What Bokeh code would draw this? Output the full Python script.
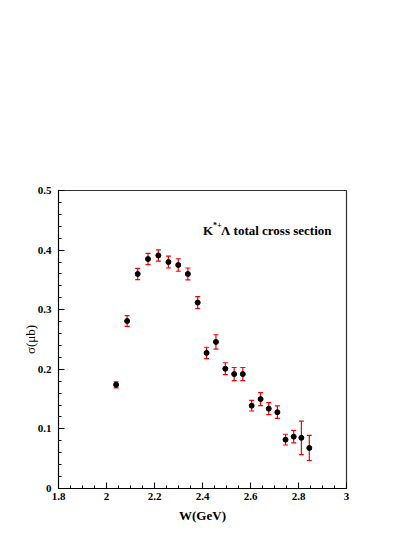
from bokeh.plotting import figure
from bokeh.models import ColumnDataSource, Whisker, TeeHead, FixedTicker
from bokeh.core.properties import value
from bokeh.embed import file_html
from bokeh.resources import INLINE

# data
W = [2.040, 2.086, 2.130, 2.173, 2.216, 2.258, 2.299, 2.339, 2.380, 2.417, 2.456,
     2.495, 2.532, 2.568, 2.605, 2.642, 2.676, 2.712, 2.746, 2.780, 2.812, 2.845]
sigma = [0.174, 0.281, 0.360, 0.385, 0.391, 0.380, 0.375, 0.360, 0.312, 0.2275, 0.246,
         0.201, 0.192, 0.192, 0.139, 0.150, 0.134, 0.128, 0.082, 0.087, 0.085, 0.068]
err = [0.005, 0.009, 0.0095, 0.0095, 0.0095, 0.010, 0.0105, 0.010, 0.010, 0.0095, 0.012,
       0.010, 0.011, 0.011, 0.009, 0.011, 0.010, 0.0105, 0.009, 0.0105, 0.028, 0.021]
x_ticks = [1.8, 2.0, 2.2, 2.4, 2.6, 2.8, 3.0]
x_tick_labels = ["1.8", "2", "2.2", "2.4", "2.6", "2.8", "3"]
y_ticks = [0.0, 0.1, 0.2, 0.3, 0.4, 0.5]
y_tick_labels = ["0", "0.1", "0.2", "0.3", "0.4", "0.5"]
x_minor = [round(1.8 + 0.05 * i, 3) for i in range(25)]
y_minor = [round(0.02 * i, 3) for i in range(26)]

FONT = "Liberation Serif"

p = figure(frame_width=288, frame_height=298, x_range=(1.8, 3.0), y_range=(0, 0.5),
           output_backend="svg", toolbar_location=None,
           min_border_left=58, min_border_right=61, min_border_top=190, min_border_bottom=45)
p.grid.visible = False
p.outline_line_color = "#333333"
p.outline_line_width = 1.2
p.background_fill_color = "white"
p.border_fill_color = "white"

p.xaxis.ticker = FixedTicker(ticks=x_ticks, minor_ticks=x_minor)
p.yaxis.ticker = FixedTicker(ticks=y_ticks, minor_ticks=y_minor)
p.xaxis.major_label_overrides = dict(zip(x_ticks, x_tick_labels))
p.yaxis.major_label_overrides = dict(zip(y_ticks, y_tick_labels))

for ax in (p.xaxis, p.yaxis):
    ax.major_tick_in = 6
    ax.major_tick_out = 0
    ax.minor_tick_in = 3
    ax.minor_tick_out = 0
    ax.axis_line_color = "black"
    ax.major_tick_line_color = "black"
    ax.minor_tick_line_color = "black"
    ax.major_label_text_font = FONT
    ax.major_label_text_font_style = "bold"
    ax.major_label_text_font_size = "11px"
    ax.major_label_text_color = "black"
    ax.axis_label_text_font = FONT
    ax.axis_label_text_color = "black"

p.xaxis.major_label_standoff = 4
p.yaxis.major_label_standoff = 7
p.xaxis.axis_label = "W(GeV)"
p.xaxis.axis_label_text_font_style = "bold"
p.xaxis.axis_label_text_font_size = "13px"
p.xaxis.axis_label_standoff = 5
p.yaxis.axis_label = "σ(μb)"
p.yaxis.axis_label_text_font_style = "normal"
p.yaxis.axis_label_text_font_size = "13px"
p.yaxis.axis_label_standoff = -3

src = ColumnDataSource(dict(
    x=W, y=sigma,
    lo=[s - e for s, e in zip(sigma, err)],
    hi=[s + e for s, e in zip(sigma, err)],
))
wh = Whisker(base="x", upper="hi", lower="lo", source=src,
             line_color="red", line_width=1.2,
             upper_head=TeeHead(size=5, line_color="red", line_width=1.2),
             lower_head=TeeHead(size=5, line_color="red", line_width=1.2))
p.add_layout(wh)
p.scatter("x", "y", source=src, marker="circle", size=5, color="black")

# title text with superscript
tx, ty = 2.402, 0.4335
p.text(x=[tx], y=[ty], text=["K"], text_font=value(FONT), text_font_style="bold",
       text_font_size="13px", text_baseline="middle", text_align="left", text_color="black")
p.text(x=[tx], y=[ty], text=["*+"], text_font=value(FONT), text_font_style="bold",
       text_font_size="8px", text_baseline="middle", text_align="left", text_color="black",
       x_offset=10, y_offset=-5)
p.text(x=[tx], y=[ty], text=["Λ total cross section"], text_font=value(FONT),
       text_font_style="bold", text_font_size="13px", text_baseline="middle",
       text_align="left", text_color="black", x_offset=18)

open("out.html", "w").write(file_html(p, INLINE))
